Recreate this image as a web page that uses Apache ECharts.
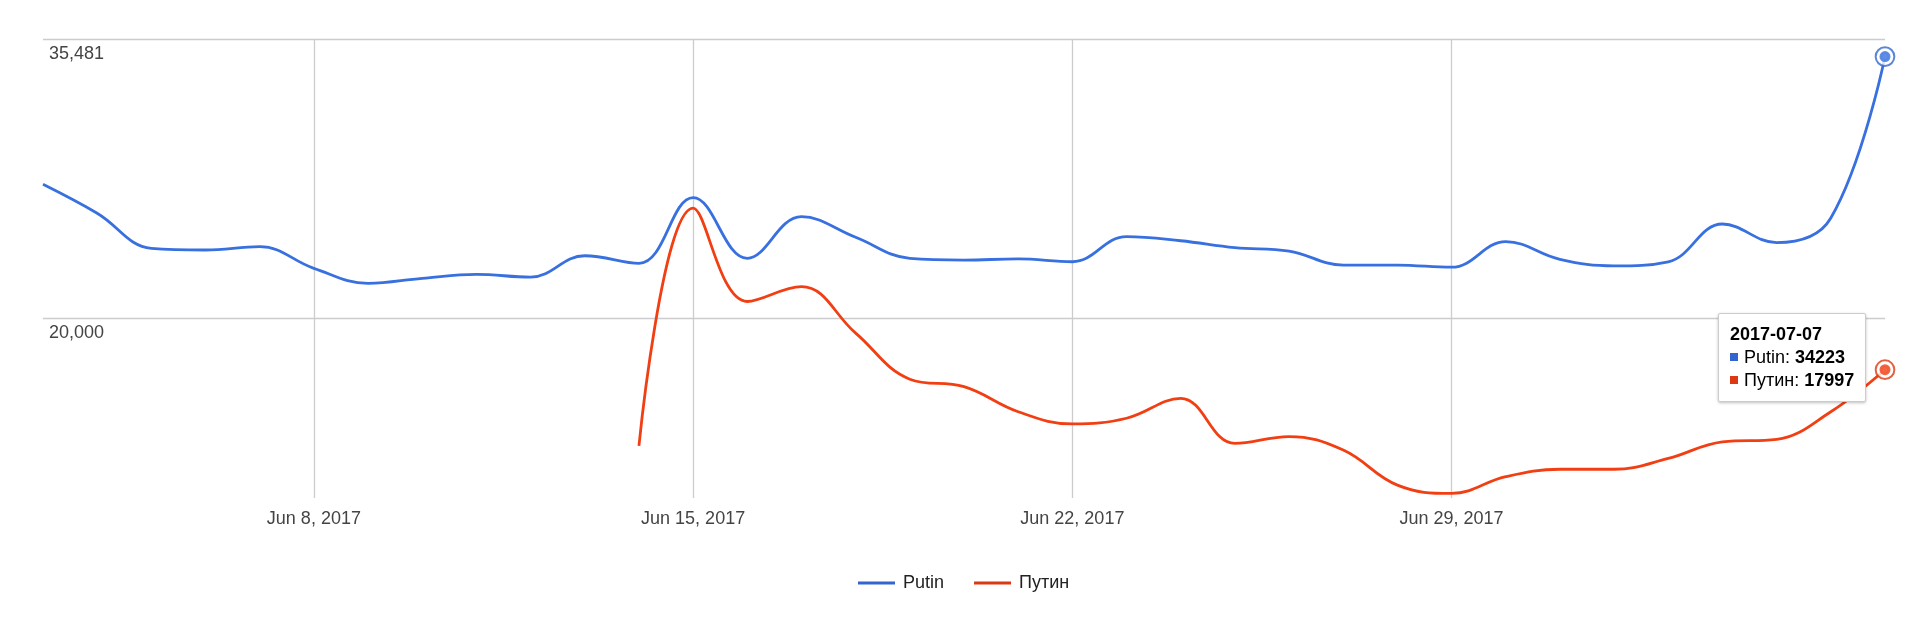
<!DOCTYPE html>
<html>
<head>
<meta charset="utf-8">
<title>Putin / Путин</title>
<script src="https://cdn.jsdelivr.net/npm/echarts@6/dist/echarts.min.js"></script>
<style>
  html, body { margin: 0; padding: 0; background: #fff; }
  #chart { width: 1920px; height: 628px; }
</style>
</head>
<body>
<div id="chart"></div>
<script>
var dates = [
  '2017-06-03', '2017-06-04', '2017-06-05', '2017-06-06', '2017-06-07',
  '2017-06-08', '2017-06-09', '2017-06-10', '2017-06-11', '2017-06-12',
  '2017-06-13', '2017-06-14', '2017-06-15', '2017-06-16', '2017-06-17',
  '2017-06-18', '2017-06-19', '2017-06-20', '2017-06-21', '2017-06-22',
  '2017-06-23', '2017-06-24', '2017-06-25', '2017-06-26', '2017-06-27',
  '2017-06-28', '2017-06-29', '2017-06-30', '2017-07-01', '2017-07-02',
  '2017-07-03', '2017-07-04', '2017-07-05', '2017-07-06', '2017-07-07'
];
var putin = [
  26330, 24810, 23090, 23010, 23170, 22160, 21490, 21710, 21890, 21760,
  22740, 22390, 25620, 22620, 24640, 23620, 22620, 22540, 22590, 22460,
  23650, 23450, 23120, 22960, 22310, 22310, 22210, 23410, 22570, 22270,
  22460, 24270, 23360, 24570, 34223
];
var putinRu = [
  null, null, null, null, null, null, null, null, null, null,
  null, 15390, 25070, 20700, 21340, 19400, 17650, 17380, 16510, 16100,
  16290, 16970, 15470, 15690, 15260, 14200, 13960, 14450, 14670, 14670,
  15000, 15520, 15600, 16510, 17997
];
var seriesNames = ['Putin', 'Путин'];
var seriesColors = ['#3366cc', '#dc3912'];
var yGridValues = [20000, 35481];
var yMin = 13830;
var yMax = 35481;
var tickDates = ['2017-06-08', '2017-06-15', '2017-06-22', '2017-06-29'];
var tickLabels = ['Jun 8, 2017', 'Jun 15, 2017', 'Jun 22, 2017', 'Jun 29, 2017'];

var font = '"Liberation Sans", Arial, sans-serif';
var last = dates.length - 1;
var allValues = [putin, putinRu];

function isTick(index, value) {
  return tickDates.indexOf(value) >= 0;
}

// focused points on the last day (ring + inner dot)
var ringData = allValues.map(function (vals, i) {
  return { value: [dates[last], vals[last]], itemStyle: { borderColor: seriesColors[i] } };
});
var dotData = allValues.map(function (vals, i) {
  return { value: [dates[last], vals[last]], itemStyle: { color: seriesColors[i] } };
});

var chart = echarts.init(document.getElementById('chart'));

var option = {
  animation: false,
  textStyle: { fontFamily: font },
  grid: { left: 43, right: 35, top: 39, bottom: 130 },
  legend: {
    data: seriesNames,
    top: 574,
    left: 858,
    padding: 0,
    icon: 'rect',
    itemWidth: 37,
    itemHeight: 3,
    itemGap: 30,
    selectedMode: false,
    textStyle: { fontSize: 18, color: '#222', fontFamily: font, padding: [0, 0, 0, 3] }
  },
  tooltip: {
    trigger: 'axis',
    alwaysShowContent: true,
    transitionDuration: 0,
    axisPointer: { type: 'none' },
    backgroundColor: '#fff',
    borderColor: '#ccc',
    borderWidth: 1,
    borderRadius: 2,
    padding: [9, 11],
    extraCssText: 'box-shadow: 0 1px 3px rgba(0,0,0,0.25);',
    position: function () {
      return [1718, 313];
    },
    formatter: function (params) {
      var rows = params.filter(function (p) {
        return seriesNames.indexOf(p.seriesName) >= 0 && p.value != null;
      });
      var html = '<div style="font:bold 18px ' + font.replace(/"/g, "'") + ';line-height:23px;color:#000">' +
        params[0].axisValue + '</div>';
      rows.forEach(function (p) {
        html += '<div style="font:18px ' + font.replace(/"/g, "'") + ';line-height:23px;color:#000">' +
          '<span style="display:inline-block;width:8px;height:8px;margin:0 6px 2px 0;background:' +
          p.color + '"></span>' + p.seriesName + ': <b>' + p.value + '</b></div>';
      });
      return html;
    }
  },
  xAxis: {
    type: 'category',
    data: dates,
    boundaryGap: false,
    axisLine: { show: false },
    axisTick: { show: false },
    axisLabel: {
      interval: isTick,
      margin: 12,
      fontSize: 18,
      color: '#444',
      fontFamily: font,
      formatter: function (value) {
        var i = tickDates.indexOf(value);
        return i >= 0 ? tickLabels[i] : '';
      }
    },
    splitLine: {
      show: true,
      interval: isTick,
      lineStyle: { color: '#ccc', width: 1.3 }
    }
  },
  yAxis: {
    type: 'log',
    min: yMin,
    max: yMax,
    axisLine: { show: false },
    axisTick: { show: false },
    axisLabel: { show: false },
    splitLine: { show: false }
  },
  series: [
    {
      name: seriesNames[0],
      type: 'line',
      data: putin,
      smooth: 0.4,
      showSymbol: false,
      lineStyle: { width: 2.8, color: seriesColors[0] },
      itemStyle: { color: seriesColors[0] },
      markLine: {
        silent: true,
        z: 1,
        symbol: ['none', 'none'],
        lineStyle: { color: '#ccc', type: 'solid', width: 1.3 },
        label: {
          position: 'insideStartBottom',
          distance: 6,
          fontSize: 18,
          color: '#444',
          fontFamily: font,
          formatter: function (p) {
            return Number(p.value).toLocaleString('en-US');
          }
        },
        emphasis: { disabled: true },
        data: yGridValues.map(function (v) { return { yAxis: v }; })
      }
    },
    {
      name: seriesNames[1],
      type: 'line',
      data: putinRu,
      smooth: 0.4,
      showSymbol: false,
      connectNulls: false,
      lineStyle: { width: 2.8, color: seriesColors[1] },
      itemStyle: { color: seriesColors[1] }
    },
    {
      name: 'focusRing',
      type: 'scatter',
      data: ringData,
      symbolSize: 17,
      silent: true,
      z: 4,
      itemStyle: { color: '#fff', borderWidth: 2 }
    },
    {
      name: 'focusDot',
      type: 'scatter',
      data: dotData,
      symbolSize: 10,
      silent: true,
      z: 5
    }
  ]
};

chart.setOption(option);
chart.dispatchAction({ type: 'showTip', seriesIndex: 0, dataIndex: last });
</script>
</body>
</html>
